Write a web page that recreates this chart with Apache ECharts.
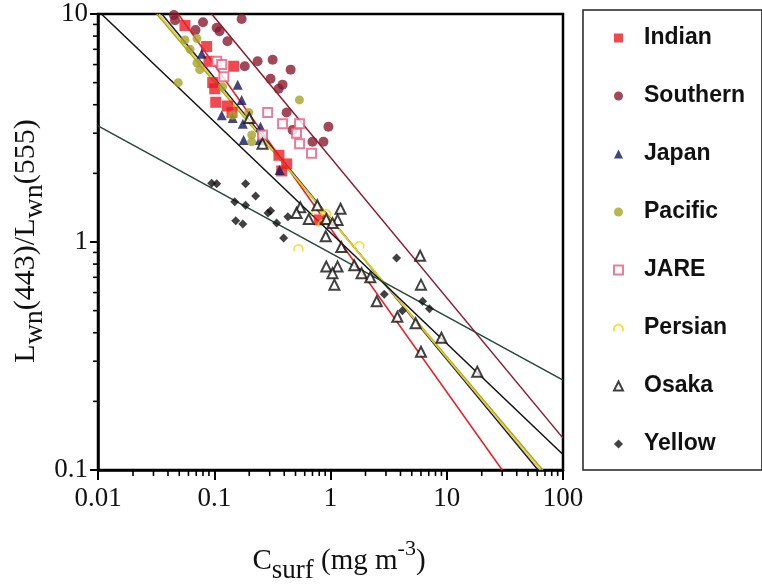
<!DOCTYPE html>
<html>
<head>
<meta charset="utf-8">
<script src="https://cdn.jsdelivr.net/npm/echarts@6/dist/echarts.min.js"></script>
<style>html,body{margin:0;padding:0;background:#fff;}#c{width:762px;height:584px;}</style>
</head>
<body>
<div id="c"></div>
<script>
// ---- data ----
const seriesNames = ['Indian','Southern','Japan','Pacific','JARE','Persian','Osaka','Yellow'];
const xTickLabels = ['0.01','0.1','1','10','100'];
const yTickLabels = ['0.1','1','10'];

const indian = [[0.056,8.9],[0.086,7.2],[0.09,6.2],[0.147,5.9],[0.097,5.0],[0.101,4.7],[0.103,4.1],[0.13,3.95],[0.142,3.7],[0.36,2.4],[0.42,2.2],[0.38,2.05],[0.8,1.25]];
const southern = [[0.045,9.9],[0.046,9.4],[0.08,9.2],[0.069,8.5],[0.105,8.7],[0.111,8.4],[0.172,9.5],[0.13,7.6],[0.183,5.9],[0.236,6.2],[0.318,6.3],[0.454,5.7],[0.305,5.2],[0.358,4.7],[0.387,4.9],[0.419,3.7],[0.472,3.1],[0.96,3.2],[0.70,2.75],[0.87,2.75]];
const japan = [[0.078,6.7],[0.159,4.9],[0.172,4.2],[0.116,3.6],[0.144,3.5],[0.176,3.3],[0.25,3.2],[0.179,2.8],[0.246,2.8],[0.365,2.07]];
const pacific = [[0.056,7.7],[0.071,7.8],[0.062,7.0],[0.071,6.1],[0.075,5.7],[0.049,5.0],[0.118,4.8],[0.54,4.2],[0.198,3.7],[0.144,3.6],[0.21,2.95],[0.21,2.75]];
const jare = [[0.105,6.2],[0.116,6.0],[0.121,5.3],[0.288,3.7],[0.387,3.3],[0.542,3.3],[0.51,3.0],[0.542,2.7],[0.687,2.45],[0.26,2.95]];
const persian = [[0.76,1.36],[0.92,1.34],[0.86,1.21],[0.53,0.94],[1.77,0.97]];
const osaka = [[0.2,3.5],[0.26,2.7],[0.55,1.42],[0.51,1.34],[0.65,1.26],[0.77,1.45],[1.22,1.40],[1.15,1.25],[0.92,1.26],[1.04,1.21],[0.91,1.06],[1.24,0.95],[0.92,0.78],[1.15,0.78],[1.04,0.73],[1.08,0.65],[1.6,0.79],[1.85,0.73],[2.2,0.70],[2.5,0.55],[3.76,0.47],[5.4,0.44],[5.9,0.87],[6.0,0.65],[9.0,0.38],[6.0,0.33],[18.3,0.27]];
const yellow = [[0.095,1.81],[0.105,1.80],[0.186,1.8],[0.227,1.59],[0.15,1.50],[0.186,1.45],[0.305,1.37],[0.29,1.34],[0.344,1.21],[0.43,1.29],[0.153,1.24],[0.176,1.20],[0.395,1.04],[3.7,0.85],[2.9,0.59],[4.15,0.50],[6.2,0.55],[7.1,0.51]];

// fitted lines: end points
const indianLine = [[0.049,10],[30,0.1]];
const southernLine = [[0.095,10],[100,0.138]];
const japanLine = [[0.0354,10],[61,0.1]];
const pacificLine = [[0.032,10],[67,0.1]];
const persianLine = [[0.0335,10],[64,0.1]];
const osakaLine = [[0.0107,10],[100,0.117]];
const yellowLine = [[0.01,3.23],[100,0.248]];

// minor tick values (log decades 2..9)
const xDecades = [0.01,0.1,1,10];
const yDecades = [0.1,1];
const minorSteps = [2,3,4,5,6,7,8,9];
const xMinor = [];
xDecades.forEach(d => minorSteps.forEach(k => xMinor.push(+(d*k).toPrecision(3))));
const yMinor = [];
yDecades.forEach(d => minorSteps.forEach(k => yMinor.push(+(d*k).toPrecision(3))));

const serif = "'Liberation Serif','Times New Roman',serif";
const colors = {
  Indian:'#ee1c24', Southern:'#8a1a30', Japan:'#16165e', Pacific:'#a6a428',
  JARE:'#ea5a80', Persian:'#f2d800', Osaka:'#111111', Yellow:'#111111'
};

function fmt(list){
  return function(v){
    const s = list.find(t => Math.abs(Math.log10(+t) - Math.log10(v)) < 1e-6);
    return s || '';
  };
}

function scatter(name, data, symbol, size, extra){
  return Object.assign({
    name, type:'scatter', data, symbol, symbolSize:size, z:5, symbolKeepAspect:true,
    itemStyle:{color:colors[name]}
  }, extra || {});
}
function fit(name, data, color){
  return {name:name+' fit', type:'line', data, showSymbol:false, symbol:'none', silent:true, z:3,
    lineStyle:{color, width:1.5}, animation:false};
}

const chart = echarts.init(document.getElementById('c'), null, {renderer:'canvas'});
const option = {
  animation:false,
  backgroundColor:'#fff',
  grid:{left:98, right:199, top:14, bottom:114, show:true, borderColor:'#000', borderWidth:2.5, backgroundColor:'transparent'},
  xAxis:{type:'log', logBase:10, min:0.01, max:100,
    axisLine:{lineStyle:{color:'#000', width:2.5}},
    axisTick:{length:10, lineStyle:{color:'#000', width:2}},
    splitLine:{show:false},
    axisLabel:{margin:15, formatter:fmt(xTickLabels), fontFamily:serif, fontSize:27, color:'#111'}
  },
  yAxis:{type:'log', logBase:10, min:0.1, max:10,
    axisLine:{lineStyle:{color:'#000', width:2.5}},
    axisTick:{length:8, lineStyle:{color:'#000', width:2}},
    splitLine:{show:false},
    axisLabel:{margin:10, formatter:fmt(yTickLabels), fontFamily:serif, fontSize:27, color:'#111'}
  },
  legend:{
    orient:'vertical', left:583, top:10, padding:[16,17,14,30], itemGap:34,
    itemWidth:9, itemHeight:9, borderColor:'#222', borderWidth:1.5, backgroundColor:'#fff',
    symbolKeepAspect:true,
    textStyle:{fontFamily:"'Liberation Sans',Arial,sans-serif", fontWeight:'bold', fontSize:23, lineHeight:24, color:'#111', padding:[0,0,0,16]},
    data:seriesNames, selectedMode:false
  },
  graphic:[
    {type:'text', x:339, y:561, z:10, style:{
      text:'{m|C}{s|surf}{m| (mg m}{p|-3}{m|)}',
      align:'center', verticalAlign:'middle',
      rich:{
        m:{fontFamily:serif, fontSize:29, lineHeight:46, verticalAlign:'middle', fill:'#111', color:'#111'},
        s:{fontFamily:serif, fontSize:27, lineHeight:30, verticalAlign:'bottom', fill:'#111', color:'#111'},
        p:{fontFamily:serif, fontSize:22, lineHeight:28, verticalAlign:'top', fill:'#111', color:'#111'}
      }
    }},
    {type:'text', x:26, y:241, rotation:Math.PI/2, z:10, style:{
      text:'{m|L}{s|wn}{m|(443)/L}{s|wn}{m|(555)}',
      align:'center', verticalAlign:'middle',
      rich:{
        m:{fontFamily:serif, fontSize:30, lineHeight:46, verticalAlign:'middle', fill:'#111', color:'#111'},
        s:{fontFamily:serif, fontSize:28, lineHeight:30, verticalAlign:'bottom', fill:'#111', color:'#111'}
      }
    }}
  ],
  series:[
    fit('Indian', indianLine, '#ee1c24'),
    fit('Southern', southernLine, '#8a1a30'),
    fit('Japan', japanLine, '#16165e'),
    fit('Pacific', pacificLine, '#a6a428'),
    fit('Persian', persianLine, '#e6d21a'),
    fit('Osaka', osakaLine, '#111'),
    fit('Yellow', yellowLine, '#26473a'),
    scatter('Indian', indian, 'rect', 11),
    scatter('Southern', southern, 'circle', 10),
    scatter('Japan', japan, 'triangle', 10),
    scatter('Pacific', pacific, 'circle', 9),
    scatter('JARE', jare, 'emptyRect', 9, {itemStyle:{color:colors.JARE, borderWidth:1.2}}),
    scatter('Persian', persian, 'path://M1,9 A4.5,4.5 0 1 1 9,9', 9,
      {itemStyle:{color:'rgba(255,255,255,0)', borderColor:colors.Persian, borderWidth:1.6}}),
    scatter('Osaka', osaka, 'emptyTriangle', 10, {itemStyle:{color:colors.Osaka, borderWidth:1.2}}),
    scatter('Yellow', yellow, 'diamond', 9),
    {name:'xminor', type:'custom', silent:true, z:6, data:xMinor.map(v => [v, 0.1]),
      renderItem:function(params, api){
        const p = api.coord([api.value(0), api.value(1)]);
        return {type:'line', shape:{x1:p[0], y1:p[1], x2:p[0], y2:p[1]+6}, style:{stroke:'#000', lineWidth:1.6}};
      }},
    {name:'yminor', type:'custom', silent:true, z:6, data:yMinor.map(v => [0.01, v]),
      renderItem:function(params, api){
        const p = api.coord([api.value(0), api.value(1)]);
        return {type:'line', shape:{x1:p[0]-5, y1:p[1], x2:p[0], y2:p[1]}, style:{stroke:'#000', lineWidth:1.6}};
      }}
  ]
};
chart.setOption(option);
</script>
</body>
</html>
